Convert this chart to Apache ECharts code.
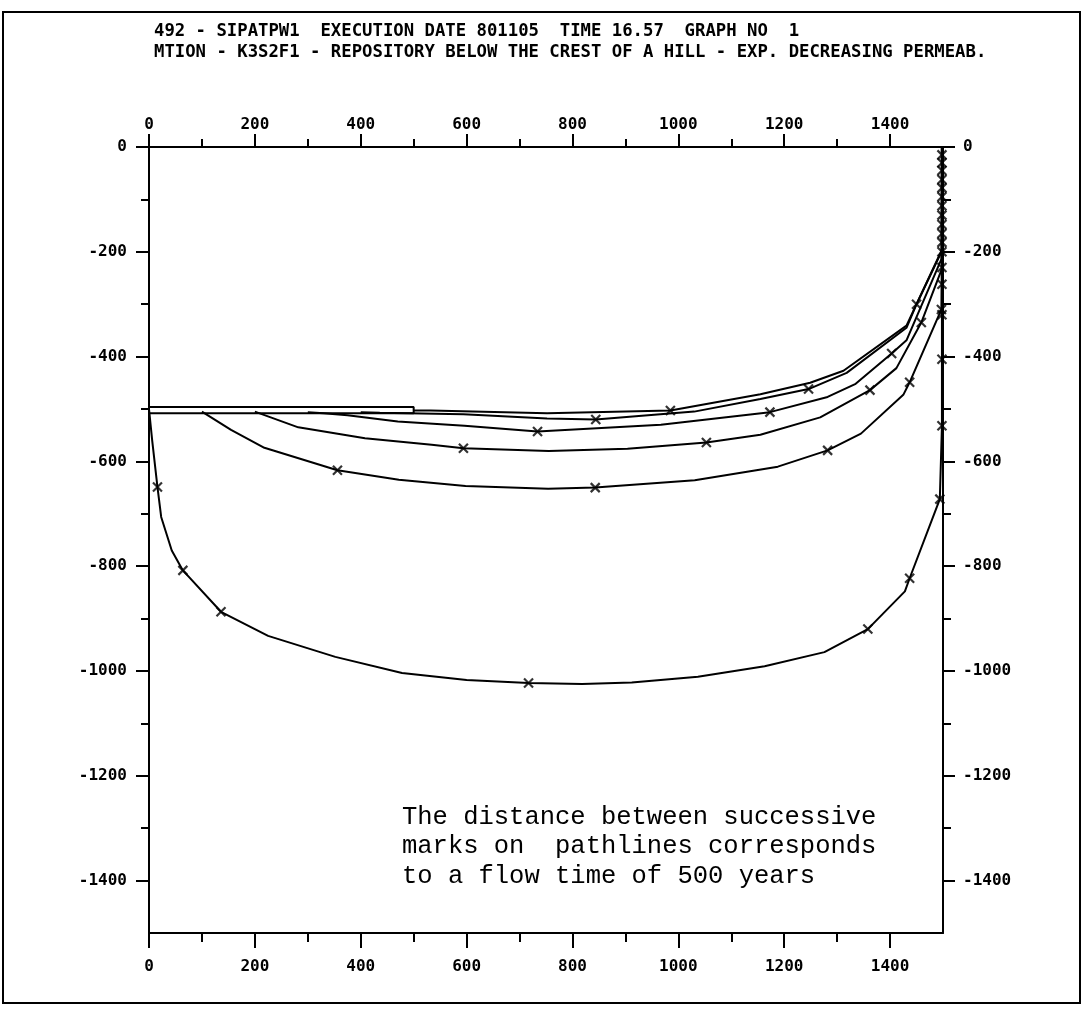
<!DOCTYPE html>
<html>
<head>
<meta charset="utf-8">
<script src="https://cdn.jsdelivr.net/npm/echarts@6/dist/echarts.min.js"></script>
<style>
  html, body { margin: 0; padding: 0; background: #fff; }
  #chart { width: 1086px; height: 1010px; }
</style>
</head>
<body>
<div id="chart"></div>
<script>
// tick values
const xMajor = [0, 200, 400, 600, 800, 1000, 1200, 1400];
const xMinor = [100, 300, 500, 700, 900, 1100, 1300];
const yMajor = [0, -200, -400, -600, -800, -1000, -1200, -1400];
const yMinor = [-100, -300, -500, -700, -900, -1100, -1300];

// repository outline
const repository = [[0, -496], [500, -496], [500, -508], [0, -508], [0, -496]];

// pathlines (x, elevation)
const pathA = [[0, -500], [6, -560], [16, -649], [23, -706], [43, -770], [64, -808], [136, -887], [225, -933],
  [352, -973], [478, -1004], [600, -1017], [717, -1023], [818, -1025], [912, -1022], [1037, -1011],
  [1163, -991], [1276, -964], [1358, -920], [1428, -848], [1437, -823], [1494, -672], [1498, -532],
  [1498, -200], [1498, 0]];
const pathB = [[100, -505], [155, -540], [218, -574], [356, -617], [472, -635], [598, -647], [754, -652],
  [843, -650], [1031, -636], [1188, -610], [1282, -579], [1345, -547], [1425, -473], [1437, -449],
  [1497, -310], [1498, -200], [1498, 0]];
const pathC = [[200, -505], [282, -535], [408, -556], [534, -568], [594, -575], [755, -580], [904, -576],
  [1053, -564], [1155, -549], [1268, -516], [1362, -464], [1412, -422], [1459, -335], [1498, -232], [1498, 0]];
const pathD = [[300, -506], [330, -508], [375, -512], [470, -524], [596, -532], [734, -543], [967, -530],
  [1173, -506], [1282, -477], [1335, -452], [1403, -394], [1431, -369], [1497, -214], [1498, 0]];
const pathE = [[400, -506], [436, -507], [594, -510], [752, -518], [844, -520], [1030, -505], [1155, -481],
  [1246, -462], [1318, -431], [1431, -345], [1450, -300], [1498, -198], [1498, 0]];
const pathF = [[500, -503], [532, -503], [752, -508], [985, -503], [1155, -472], [1249, -450],
  [1312, -427], [1431, -341], [1498, -196], [1498, 0]];

// 500-year marks on each pathline
const marksA = [[16, -649], [64, -808], [136, -887], [717, -1023], [1358, -920], [1437, -823], [1494, -672],
  [1498, -532], [1498, -405], [1498, -320]];
const marksB = [[356, -617], [843, -650], [1282, -579], [1437, -449], [1497, -310]];
const marksC = [[594, -575], [1053, -564], [1362, -464], [1459, -335]];
const marksD = [[734, -543], [1173, -506], [1403, -394]];
const marksE = [[844, -520], [1246, -462], [1450, -300]];
const marksF = [[985, -503]];
const edgeMarks = [[1498, -262], [1498, -230], [1498, -200], [1498, -182], [1498, -165], [1498, -148],
  [1498, -130], [1498, -112], [1498, -95], [1498, -78], [1498, -62], [1498, -45], [1498, -30], [1498, -15]];

const titleLines = [
  '492 - SIPATPW1  EXECUTION DATE 801105  TIME 16.57  GRAPH NO  1',
  'MTION - K3S2F1 - REPOSITORY BELOW THE CREST OF A HILL - EXP. DECREASING PERMEAB.'
];
const noteLines = [
  'The distance between successive',
  'marks on  pathlines corresponds',
  'to a flow time of 500 years'
];

const plotFont = "'DejaVu Sans Mono', 'Liberation Mono', monospace";

const chart = echarts.init(document.getElementById('chart'), null, { renderer: 'canvas' });

const labelStyle = (values, margin) => values ? {
  show: true, customValues: values, margin: margin, color: '#000',
  fontFamily: plotFont, fontWeight: 'bold', fontSize: 16,
  formatter: (v) => String(v)
} : { show: false };

const xAxisCfg = (position, ticks, len, labels, margin) => ({
  type: 'value', gridIndex: 0, position: position, min: 0, max: 1500,
  axisLine: { show: !!labels, onZero: false, lineStyle: { color: '#000', width: 2 } },
  axisTick: { show: true, inside: false, length: len, customValues: ticks, lineStyle: { color: '#000', width: 2 } },
  axisLabel: labelStyle(labels, margin),
  splitLine: { show: false }
});

const yAxisCfg = (position, ticks, len, labels, margin) => ({
  type: 'value', gridIndex: 0, position: position, min: -1500, max: 0,
  axisLine: { show: !!labels, onZero: false, lineStyle: { color: '#000', width: 2 } },
  axisTick: { show: true, inside: false, length: len, customValues: ticks, lineStyle: { color: '#000', width: 2 } },
  axisLabel: labelStyle(labels, margin),
  splitLine: { show: false }
});

const pathSeries = (data) => ({
  type: 'line', xAxisIndex: 0, yAxisIndex: 0, data: data,
  showSymbol: false, symbol: 'none', silent: true, smooth: false,
  lineStyle: { color: '#000', width: 2 }, z: 3
});

const markSeries = (data) => ({
  type: 'scatter', xAxisIndex: 0, yAxisIndex: 0, data: data, silent: true,
  symbol: 'path://M0,0L10,10M10,0L0,10', symbolSize: 9,
  itemStyle: { color: 'rgba(0,0,0,0)', borderColor: '#000', borderWidth: 2.2 }, z: 4
});

chart.setOption({
  animation: false,
  backgroundColor: '#fff',
  grid: { left: 149, top: 147, width: 794, height: 786, containLabel: false },
  xAxis: [
    xAxisCfg('bottom', xMajor, 15, xMajor, 26),
    xAxisCfg('bottom', xMinor, 9, null, 0),
    xAxisCfg('top', xMajor, 13, xMajor, 14),
    xAxisCfg('top', xMinor, 8, null, 0)
  ],
  yAxis: [
    yAxisCfg('left', yMajor, 13, yMajor, 22),
    yAxisCfg('left', yMinor, 8, null, 0),
    yAxisCfg('right', yMajor, 12, yMajor, 20),
    yAxisCfg('right', yMinor, 8, null, 0)
  ],
  series: [
    pathSeries(repository),
    pathSeries(pathA), pathSeries(pathB), pathSeries(pathC),
    pathSeries(pathD), pathSeries(pathE), pathSeries(pathF),
    markSeries(marksA), markSeries(marksB), markSeries(marksC),
    markSeries(marksD), markSeries(marksE), markSeries(marksF), markSeries(edgeMarks)
  ],
  graphic: [
    {
      type: 'rect', silent: true,
      shape: { x: 3, y: 12, width: 1077, height: 991 },
      style: { fill: 'none', stroke: '#000', lineWidth: 2 }
    },
    {
      type: 'text', left: 154, top: 21, silent: true,
      style: {
        text: titleLines.join('\n'), fill: '#000', lineHeight: 21,
        font: "bold 17.3px 'DejaVu Sans Mono', 'Liberation Mono', monospace"
      }
    },
    {
      type: 'text', left: 402, top: 802, silent: true,
      style: {
        text: noteLines.join('\n'), fill: '#000', lineHeight: 29.5,
        font: "25.5px 'Liberation Mono', 'DejaVu Sans Mono', monospace"
      }
    }
  ]
});
</script>
</body>
</html>
